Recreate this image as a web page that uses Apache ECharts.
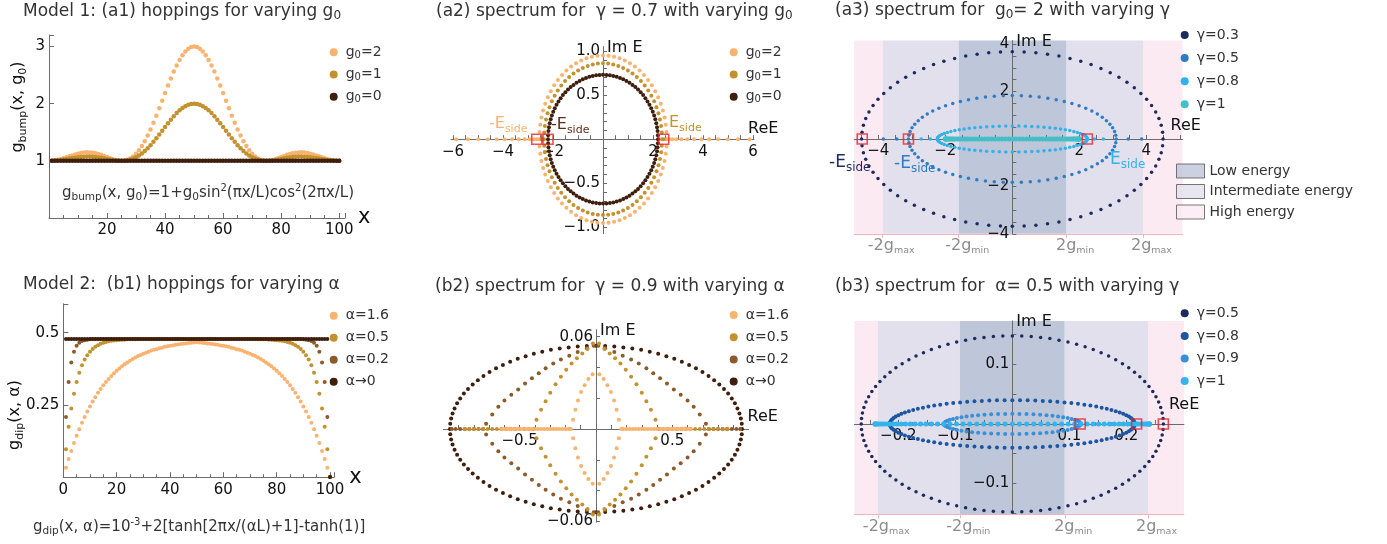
<!DOCTYPE html>
<html><head><meta charset="utf-8">
<script src="https://cdn.jsdelivr.net/npm/echarts@6/dist/echarts.min.js"></script>
<style>html,body{margin:0;padding:0;background:#fff}#c{width:1387px;height:544px}</style>
</head><body><div id="c"></div>
<script>
// ---------------- DATA ----------------
const a1X = [1,2,3,4,5,6,7,8,9,10,11,12,13,14,15,16,17,18,19,20,21,22,23,24,25,26,27,28,29,30,31,32,33,34,35,36,37,38,39,40,41,42,43,44,45,46,47,48,49,50,51,52,53,54,55,56,57,58,59,60,61,62,63,64,65,66,67,68,69,70,71,72,73,74,75,76,77,78,79,80,81,82,83,84,85,86,87,88,89,90,91,92,93,94,95,96,97,98,99,100];
const a1G2 = [1.002,1.008,1.017,1.029,1.044,1.061,1.078,1.095,1.111,1.125,1.136,1.144,1.148,1.147,1.142,1.133,1.120,1.104,1.086,1.066,1.046,1.029,1.014,1.004,1.000,1.004,1.018,1.042,1.077,1.125,1.185,1.258,1.344,1.441,1.549,1.665,1.789,1.919,2.051,2.184,2.315,2.441,2.560,2.668,2.765,2.847,2.913,2.961,2.990,3.000,
2.990,2.961,2.913,2.847,2.765,2.668,2.560,2.441,2.315,2.184,2.051,1.919,1.789,1.665,1.549,1.441,1.344,1.258,1.185,1.125,1.077,1.042,1.018,1.004,1.000,1.004,1.014,1.029,1.046,1.066,1.086,1.104,1.120,1.133,1.142,1.147,1.148,1.144,1.136,1.125,1.111,1.095,1.078,1.061,1.044,1.029,1.017,1.008,1.002,1.000];
const a1G1 = [1.001,1.004,1.009,1.015,1.022,1.030,1.039,1.047,1.055,1.063,1.068,1.072,1.074,1.074,1.071,1.067,1.060,1.052,1.043,1.033,1.023,1.014,1.007,1.002,1.000,1.002,1.009,1.021,1.039,1.063,1.093,1.129,1.172,1.220,1.274,1.333,1.395,1.459,1.526,1.592,1.657,1.720,1.780,1.834,1.882,1.923,1.956,1.980,1.995,2.000,
1.995,1.980,1.956,1.923,1.882,1.834,1.780,1.720,1.657,1.592,1.526,1.459,1.395,1.333,1.274,1.220,1.172,1.129,1.093,1.063,1.039,1.021,1.009,1.002,1.000,1.002,1.007,1.014,1.023,1.033,1.043,1.052,1.060,1.067,1.071,1.074,1.074,1.072,1.068,1.063,1.055,1.047,1.039,1.030,1.022,1.015,1.009,1.004,1.001,1.000];
const a1G0 = [1,1,1,1,1,1,1,1,1,1,1,1,1,1,1,1,1,1,1,1,1,1,1,1,1,1,1,1,1,1,1,1,1,1,1,1,1,1,1,1,1,1,1,1,1,1,1,1,1,1,1,1,1,1,1,1,1,1,1,1,1,1,1,1,1,1,1,1,1,1,1,1,1,1,1,1,1,1,1,1,1,1,1,1,1,1,1,1,1,1,1,1,1,1,1,1,1,1,1,1];

const b1A16 = [0.033,0.063,0.091,0.118,0.143,0.166,0.188,0.208,0.227,0.245,0.262,0.277,0.292,0.305,0.318,0.329,0.340,0.350,0.360,0.368,0.376,0.384,0.391,0.397,0.403,0.409,0.414,0.419,0.423,0.427,0.431,0.434,0.438,0.441,0.443,0.446,0.448,0.451,0.453,0.455,0.456,0.458,0.459,0.461,0.462,0.463,0.464,0.465,0.466,0.467,
0.466,0.465,0.464,0.463,0.462,0.461,0.459,0.458,0.456,0.455,0.453,0.451,0.448,0.446,0.443,0.441,0.438,0.434,0.431,0.427,0.423,0.419,0.414,0.409,0.403,0.397,0.391,0.384,0.376,0.368,0.360,0.350,0.340,0.329,0.318,0.305,0.292,0.277,0.262,0.245,0.227,0.208,0.188,0.166,0.143,0.118,0.091,0.063,0.033,0.001];
const b1A05 = [0.097,0.175,0.238,0.289,0.329,0.361,0.387,0.407,0.422,0.434,0.444,0.451,0.457,0.462,0.465,0.468,0.470,0.472,0.473,0.474,0.475,0.476,0.476,0.477,0.477,0.477,0.477,
0.478,0.478,0.478,0.478,0.478,0.478,0.478,0.478,0.478,0.478,0.478,0.478,0.478,0.478,0.478,0.478,0.478,0.478,0.478,0.478,0.478,0.478,0.478,0.478,0.478,0.478,0.478,0.478,0.478,0.478,0.478,0.478,0.478,0.478,0.478,0.478,0.478,0.478,0.478,0.478,0.478,0.478,0.478,0.478,0.478,
0.477,0.477,0.477,0.477,0.476,0.476,0.475,0.474,0.473,0.472,0.470,0.468,0.465,0.462,0.457,0.451,0.444,0.434,0.422,0.407,0.387,0.361,0.329,0.289,0.238,0.175,0.097,0.001];
const b1A02 = [0.208,0.329,0.397,0.434,0.455,0.465,0.471,0.474,0.476,0.477,
0.478,0.478,0.478,0.478,0.478,0.478,0.478,0.478,0.478,0.478,0.478,0.478,0.478,0.478,0.478,0.478,0.478,0.478,0.478,0.478,0.478,0.478,0.478,0.478,0.478,0.478,0.478,0.478,0.478,0.478,
0.478,0.478,0.478,0.478,0.478,0.478,0.478,0.478,0.478,0.478,0.478,0.478,0.478,0.478,0.478,0.478,0.478,0.478,0.478,0.478,0.478,0.478,0.478,0.478,0.478,0.478,0.478,0.478,0.478,0.478,
0.478,0.478,0.478,0.478,0.478,0.478,0.478,0.478,0.478,0.478,0.478,0.478,0.478,0.478,0.478,0.478,0.478,0.478,0.478,
0.477,0.476,0.474,0.471,0.465,0.455,0.434,0.397,0.329,0.208,0.001];
const b1A00 = [0.478,0.478,0.478,0.478,0.478,0.478,0.478,0.478,0.478,0.478,0.478,0.478,0.478,0.478,0.478,0.478,0.478,0.478,0.478,0.478,0.478,0.478,0.478,0.478,0.478,0.478,0.478,0.478,0.478,0.478,0.478,0.478,0.478,0.478,0.478,0.478,0.478,0.478,0.478,0.478,0.478,0.478,0.478,0.478,0.478,0.478,0.478,0.478,0.478,0.478,
0.478,0.478,0.478,0.478,0.478,0.478,0.478,0.478,0.478,0.478,0.478,0.478,0.478,0.478,0.478,0.478,0.478,0.478,0.478,0.478,0.478,0.478,0.478,0.478,0.478,0.478,0.478,0.478,0.478,0.478,0.478,0.478,0.478,0.478,0.478,0.478,0.478,0.478,0.478,0.478,0.478,0.478,0.478,0.478,0.478,0.478,0.478,0.478,0.478,0.001];

const a2G0 = [[2.2,0],[2.196,0.046],[2.183,0.092],[2.161,0.137],[2.131,0.182],[2.092,0.226],[2.046,0.269],[1.991,0.311],[1.928,0.352],[1.858,0.391],[1.78,0.429],[1.695,0.465],[1.604,0.5],[1.506,0.532],[1.402,0.563],[1.293,0.591],[1.179,0.616],[1.06,0.64],[0.937,0.661],[0.81,0.679],[0.68,0.694],[0.547,0.707],[0.412,0.717],[0.276,0.724],[0.138,0.729],[0,0.73],
[-0.138,0.729],[-0.276,0.724],[-0.412,0.717],[-0.547,0.707],[-0.68,0.694],[-0.81,0.679],[-0.937,0.661],[-1.06,0.64],[-1.179,0.616],[-1.293,0.591],[-1.402,0.563],[-1.506,0.532],[-1.604,0.5],[-1.695,0.465],[-1.78,0.429],[-1.858,0.391],[-1.928,0.352],[-1.991,0.311],[-2.046,0.269],[-2.092,0.226],[-2.131,0.182],[-2.161,0.137],[-2.183,0.092],[-2.196,0.046],[-2.2,0],
[2.196,-0.046],[2.183,-0.092],[2.161,-0.137],[2.131,-0.182],[2.092,-0.226],[2.046,-0.269],[1.991,-0.311],[1.928,-0.352],[1.858,-0.391],[1.78,-0.429],[1.695,-0.465],[1.604,-0.5],[1.506,-0.532],[1.402,-0.563],[1.293,-0.591],[1.179,-0.616],[1.06,-0.64],[0.937,-0.661],[0.81,-0.679],[0.68,-0.694],[0.547,-0.707],[0.412,-0.717],[0.276,-0.724],[0.138,-0.729],[0,-0.73],
[-0.138,-0.729],[-0.276,-0.724],[-0.412,-0.717],[-0.547,-0.707],[-0.68,-0.694],[-0.81,-0.679],[-0.937,-0.661],[-1.06,-0.64],[-1.179,-0.616],[-1.293,-0.591],[-1.402,-0.563],[-1.506,-0.532],[-1.604,-0.5],[-1.695,-0.465],[-1.78,-0.429],[-1.858,-0.391],[-1.928,-0.352],[-1.991,-0.311],[-2.046,-0.269],[-2.092,-0.226],[-2.131,-0.182],[-2.161,-0.137],[-2.183,-0.092],[-2.196,-0.046]];
const a2G1 = [[2.36,0],[2.351,0.075],[2.324,0.149],[2.28,0.223],[2.218,0.294],[2.139,0.363],[2.044,0.43],[1.933,0.493],[1.808,0.553],[1.669,0.608],[1.517,0.659],[1.354,0.704],[1.18,0.745],[0.997,0.779],[0.807,0.808],[0.611,0.831],[0.41,0.847],[0.206,0.857],[0,0.86],
[-0.206,0.857],[-0.41,0.847],[-0.611,0.831],[-0.807,0.808],[-0.997,0.779],[-1.18,0.745],[-1.354,0.704],[-1.517,0.659],[-1.669,0.608],[-1.808,0.553],[-1.933,0.493],[-2.044,0.43],[-2.139,0.363],[-2.218,0.294],[-2.28,0.223],[-2.324,0.149],[-2.351,0.075],[-2.36,0],
[2.351,-0.075],[2.324,-0.149],[2.28,-0.223],[2.218,-0.294],[2.139,-0.363],[2.044,-0.43],[1.933,-0.493],[1.808,-0.553],[1.669,-0.608],[1.517,-0.659],[1.354,-0.704],[1.18,-0.745],[0.997,-0.779],[0.807,-0.808],[0.611,-0.831],[0.41,-0.847],[0.206,-0.857],[0,-0.86],
[-0.206,-0.857],[-0.41,-0.847],[-0.611,-0.831],[-0.807,-0.808],[-0.997,-0.779],[-1.18,-0.745],[-1.354,-0.704],[-1.517,-0.659],[-1.669,-0.608],[-1.808,-0.553],[-1.933,-0.493],[-2.044,-0.43],[-2.139,-0.363],[-2.218,-0.294],[-2.28,-0.223],[-2.324,-0.149],[-2.351,-0.075]];
const a2G1Real = [-2.45,2.43];
const a2G2 = [[2.55,0],[2.54,0.083],[2.511,0.165],[2.463,0.246],[2.396,0.325],[2.311,0.401],[2.208,0.475],[2.089,0.545],[1.953,0.611],[1.803,0.672],[1.639,0.728],[1.463,0.778],[1.275,0.823],[1.078,0.861],[0.872,0.893],[0.66,0.918],[0.443,0.936],[0.222,0.946],[0,0.95],
[-0.222,0.946],[-0.443,0.936],[-0.66,0.918],[-0.872,0.893],[-1.078,0.861],[-1.275,0.823],[-1.463,0.778],[-1.639,0.728],[-1.803,0.672],[-1.953,0.611],[-2.089,0.545],[-2.208,0.475],[-2.311,0.401],[-2.396,0.325],[-2.463,0.246],[-2.511,0.165],[-2.54,0.083],[-2.55,0],
[2.54,-0.083],[2.511,-0.165],[2.463,-0.246],[2.396,-0.325],[2.311,-0.401],[2.208,-0.475],[2.089,-0.545],[1.953,-0.611],[1.803,-0.672],[1.639,-0.728],[1.463,-0.778],[1.275,-0.823],[1.078,-0.861],[0.872,-0.893],[0.66,-0.918],[0.443,-0.936],[0.222,-0.946],[0,-0.95],
[-0.222,-0.946],[-0.443,-0.936],[-0.66,-0.918],[-0.872,-0.893],[-1.078,-0.861],[-1.275,-0.823],[-1.463,-0.778],[-1.639,-0.728],[-1.803,-0.672],[-1.953,-0.611],[-2.089,-0.545],[-2.208,-0.475],[-2.311,-0.401],[-2.396,-0.325],[-2.463,-0.246],[-2.511,-0.165],[-2.54,-0.083]];
const a2G2Real = [-5.87,-5.4,-4.99,-4.61,-4.25,-3.94,-3.64,-3.37,-3.13,-2.93,-2.77,-2.65,2.65,2.77,2.93,3.13,3.37,3.64,3.94,4.25,4.61,4.99,5.4,5.87];
const a2Side = [-2.65,-2.2,2.43];

const a3G03 = [[4.5,0],[4.486,0.289],[4.445,0.576],[4.376,0.859],[4.28,1.137],[4.157,1.408],[4.01,1.671],[3.837,1.923],[3.641,2.163],[3.422,2.39],[3.182,2.602],[2.923,2.798],[2.645,2.977],[2.351,3.138],[2.043,3.279],[1.722,3.4],[1.391,3.5],[1.051,3.578],[0.704,3.635],[0.353,3.669],[0,3.68],
[-0.353,3.669],[-0.704,3.635],[-1.051,3.578],[-1.391,3.5],[-1.722,3.4],[-2.043,3.279],[-2.351,3.138],[-2.645,2.977],[-2.923,2.798],[-3.182,2.602],[-3.422,2.39],[-3.641,2.163],[-3.837,1.923],[-4.01,1.671],[-4.157,1.408],[-4.28,1.137],[-4.376,0.859],[-4.445,0.576],[-4.486,0.289],[-4.5,0],
[4.486,-0.289],[4.445,-0.576],[4.376,-0.859],[4.28,-1.137],[4.157,-1.408],[4.01,-1.671],[3.837,-1.923],[3.641,-2.163],[3.422,-2.39],[3.182,-2.602],[2.923,-2.798],[2.645,-2.977],[2.351,-3.138],[2.043,-3.279],[1.722,-3.4],[1.391,-3.5],[1.051,-3.578],[0.704,-3.635],[0.353,-3.669],[0,-3.68],
[-0.353,-3.669],[-0.704,-3.635],[-1.051,-3.578],[-1.391,-3.5],[-1.722,-3.4],[-2.043,-3.279],[-2.351,-3.138],[-2.645,-2.977],[-2.923,-2.798],[-3.182,-2.602],[-3.422,-2.39],[-3.641,-2.163],[-3.837,-1.923],[-4.01,-1.671],[-4.157,-1.408],[-4.28,-1.137],[-4.376,-0.859],[-4.445,-0.576],[-4.486,-0.289]];
const a3G05 = [[3.1,0],[3.088,0.16],[3.053,0.318],[2.994,0.474],[2.913,0.626],[2.81,0.773],[2.685,0.915],[2.539,1.05],[2.375,1.176],[2.192,1.294],[1.993,1.402],[1.778,1.499],[1.55,1.585],[1.31,1.659],[1.06,1.72],[0.802,1.768],[0.538,1.802],[0.27,1.823],[0,1.83],
[-0.27,1.823],[-0.538,1.802],[-0.802,1.768],[-1.06,1.72],[-1.31,1.659],[-1.55,1.585],[-1.778,1.499],[-1.993,1.402],[-2.192,1.294],[-2.375,1.176],[-2.539,1.05],[-2.685,0.915],[-2.81,0.773],[-2.913,0.626],[-2.994,0.474],[-3.053,0.318],[-3.088,0.16],[-3.1,0],
[3.088,-0.16],[3.053,-0.318],[2.994,-0.474],[2.913,-0.626],[2.81,-0.773],[2.685,-0.915],[2.539,-1.05],[2.375,-1.176],[2.192,-1.294],[1.993,-1.402],[1.778,-1.499],[1.55,-1.585],[1.31,-1.659],[1.06,-1.72],[0.802,-1.768],[0.538,-1.802],[0.27,-1.823],[0,-1.83],
[-0.27,-1.823],[-0.538,-1.802],[-0.802,-1.768],[-1.06,-1.72],[-1.31,-1.659],[-1.55,-1.585],[-1.778,-1.499],[-1.993,-1.402],[-2.192,-1.294],[-2.375,-1.176],[-2.539,-1.05],[-2.685,-0.915],[-2.81,-0.773],[-2.913,-0.626],[-2.994,-0.474],[-3.053,-0.318],[-3.088,-0.16]];
const a3G05Real = [-3.85,-3.45,3.46,3.86];
const a3G08 = [[2.24,0],[2.231,0.048],[2.206,0.096],[2.164,0.142],[2.105,0.188],[2.03,0.232],[1.94,0.275],[1.835,0.315],[1.716,0.354],[1.584,0.389],[1.44,0.421],[1.285,0.451],[1.12,0.476],[0.947,0.498],[0.766,0.517],[0.58,0.531],[0.389,0.542],[0.195,0.548],[0,0.55],
[-0.195,0.548],[-0.389,0.542],[-0.58,0.531],[-0.766,0.517],[-0.947,0.498],[-1.12,0.476],[-1.285,0.451],[-1.44,0.421],[-1.584,0.389],[-1.716,0.354],[-1.835,0.315],[-1.94,0.275],[-2.03,0.232],[-2.105,0.188],[-2.164,0.142],[-2.206,0.096],[-2.231,0.048],[-2.24,0],
[2.231,-0.048],[2.206,-0.096],[2.164,-0.142],[2.105,-0.188],[2.03,-0.232],[1.94,-0.275],[1.835,-0.315],[1.716,-0.354],[1.584,-0.389],[1.44,-0.421],[1.285,-0.451],[1.12,-0.476],[0.947,-0.498],[0.766,-0.517],[0.58,-0.531],[0.389,-0.542],[0.195,-0.548],[0,-0.55],
[-0.195,-0.548],[-0.389,-0.542],[-0.58,-0.531],[-0.766,-0.517],[-0.947,-0.498],[-1.12,-0.476],[-1.285,-0.451],[-1.44,-0.421],[-1.584,-0.389],[-1.716,-0.354],[-1.835,-0.315],[-1.94,-0.275],[-2.03,-0.232],[-2.105,-0.188],[-2.164,-0.142],[-2.206,-0.096],[-2.231,-0.048]];
const a3G08Real = [-2.72,-2.45,2.45,2.72];
const a3G1Real = [-2,-1.997,-1.989,-1.975,-1.956,-1.932,-1.902,-1.867,-1.827,-1.782,-1.732,-1.677,-1.618,-1.554,-1.486,-1.414,-1.338,-1.259,-1.176,-1.089,-1,-0.908,-0.813,-0.717,-0.618,-0.518,-0.416,-0.313,-0.209,-0.105,0,
0.105,0.209,0.313,0.416,0.518,0.618,0.717,0.813,0.908,1,1.089,1.176,1.259,1.338,1.414,1.486,1.554,1.618,1.677,1.732,1.782,1.827,1.867,1.902,1.932,1.956,1.975,1.989,1.997,2];
const a3Side = [-4.48,-3.1,2.24];
const a3Bands = [-3.87,-1.6,1.62,3.9];

const b2A00 = [[0.957,0],[0.9551,0.0034],[0.9494,0.0068],[0.9401,0.0101],[0.9269,0.0134],[0.9102,0.0167],[0.8898,0.0199],[0.8659,0.023],[0.8386,0.026],[0.808,0.0289],[0.7742,0.0317],[0.7374,0.0344],[0.6976,0.037],[0.6551,0.0394],[0.61,0.0416],[0.5625,0.0437],[0.5128,0.0456],[0.461,0.0473],[0.4075,0.0489],[0.3523,0.0502],[0.2957,0.0514],[0.238,0.0523],[0.1793,0.053],[0.1199,0.0536],[0.0601,0.0539],[0,0.054],
[-0.0601,0.0539],[-0.1199,0.0536],[-0.1793,0.053],[-0.238,0.0523],[-0.2957,0.0514],[-0.3523,0.0502],[-0.4075,0.0489],[-0.461,0.0473],[-0.5128,0.0456],[-0.5625,0.0437],[-0.61,0.0416],[-0.6551,0.0394],[-0.6976,0.037],[-0.7374,0.0344],[-0.7742,0.0317],[-0.808,0.0289],[-0.8386,0.026],[-0.8659,0.023],[-0.8898,0.0199],[-0.9102,0.0167],[-0.9269,0.0134],[-0.9401,0.0101],[-0.9494,0.0068],[-0.9551,0.0034],[-0.957,0],
[0.9551,-0.0034],[0.9494,-0.0068],[0.9401,-0.0101],[0.9269,-0.0134],[0.9102,-0.0167],[0.8898,-0.0199],[0.8659,-0.023],[0.8386,-0.026],[0.808,-0.0289],[0.7742,-0.0317],[0.7374,-0.0344],[0.6976,-0.037],[0.6551,-0.0394],[0.61,-0.0416],[0.5625,-0.0437],[0.5128,-0.0456],[0.461,-0.0473],[0.4075,-0.0489],[0.3523,-0.0502],[0.2957,-0.0514],[0.238,-0.0523],[0.1793,-0.053],[0.1199,-0.0536],[0.0601,-0.0539],[0,-0.054],
[-0.0601,-0.0539],[-0.1199,-0.0536],[-0.1793,-0.053],[-0.238,-0.0523],[-0.2957,-0.0514],[-0.3523,-0.0502],[-0.4075,-0.0489],[-0.461,-0.0473],[-0.5128,-0.0456],[-0.5625,-0.0437],[-0.61,-0.0416],[-0.6551,-0.0394],[-0.6976,-0.037],[-0.7374,-0.0344],[-0.7742,-0.0317],[-0.808,-0.0289],[-0.8386,-0.026],[-0.8659,-0.023],[-0.8898,-0.0199],[-0.9102,-0.0167],[-0.9269,-0.0134],[-0.9401,-0.0101],[-0.9494,-0.0068],[-0.9551,-0.0034]];
const b2A02 = [[-0.72,0.0035],[-0.68,0.0095],[-0.64,0.0145],[-0.6,0.0185],[-0.555,0.0222],[-0.51,0.0257],[-0.465,0.0295],[-0.42,0.033],[-0.375,0.0363],[-0.33,0.0395],[-0.28,0.0425],[-0.23,0.0452],[-0.175,0.0476],[-0.12,0.05],[-0.06,0.0525],[-0.015,0.054],
[0.015,0.054],[0.06,0.0525],[0.12,0.05],[0.175,0.0476],[0.23,0.0452],[0.28,0.0425],[0.33,0.0395],[0.375,0.0363],[0.42,0.033],[0.465,0.0295],[0.51,0.0257],[0.555,0.0222],[0.6,0.0185],[0.64,0.0145],[0.68,0.0095],[0.72,0.0035],
[-0.72,-0.0035],[-0.68,-0.0095],[-0.64,-0.0145],[-0.6,-0.0185],[-0.555,-0.0222],[-0.51,-0.0257],[-0.465,-0.0295],[-0.42,-0.033],[-0.375,-0.0363],[-0.33,-0.0395],[-0.28,-0.0425],[-0.23,-0.0452],[-0.175,-0.0476],[-0.12,-0.05],[-0.06,-0.0525],[-0.015,-0.054],
[0.015,-0.054],[0.06,-0.0525],[0.12,-0.05],[0.175,-0.0476],[0.23,-0.0452],[0.28,-0.0425],[0.33,-0.0395],[0.375,-0.0363],[0.42,-0.033],[0.465,-0.0295],[0.51,-0.0257],[0.555,-0.0222],[0.6,-0.0185],[0.64,-0.0145],[0.68,-0.0095],[0.72,-0.0035]];
const b2A02Real = [-0.945,-0.92,-0.89,-0.86,-0.83,-0.8,-0.77,-0.74,0.74,0.77,0.8,0.83,0.86,0.89,0.92,0.945];
const b2A05 = [[-0.39,0.006],[-0.36,0.0125],[-0.33,0.018],[-0.3,0.0235],[-0.265,0.029],[-0.23,0.034],[-0.195,0.0385],[-0.16,0.0425],[-0.125,0.046],[-0.09,0.049],[-0.055,0.052],[-0.02,0.0555],
[0.02,0.0555],[0.055,0.052],[0.09,0.049],[0.125,0.046],[0.16,0.0425],[0.195,0.0385],[0.23,0.034],[0.265,0.029],[0.3,0.0235],[0.33,0.018],[0.36,0.0125],[0.39,0.006],
[-0.39,-0.006],[-0.36,-0.0125],[-0.33,-0.018],[-0.3,-0.0235],[-0.265,-0.029],[-0.23,-0.034],[-0.195,-0.0385],[-0.16,-0.0425],[-0.125,-0.046],[-0.09,-0.049],[-0.055,-0.052],[-0.02,-0.0555],
[0.02,-0.0555],[0.055,-0.052],[0.09,-0.049],[0.125,-0.046],[0.16,-0.0425],[0.195,-0.0385],[0.23,-0.034],[0.265,-0.029],[0.3,-0.0235],[0.33,-0.018],[0.36,-0.0125],[0.39,-0.006]];
const b2A05Real = [-0.86,-0.83,-0.8,-0.77,-0.74,-0.71,-0.68,-0.65,-0.62,-0.59,-0.56,-0.53,-0.5,-0.47,-0.44,-0.41,0.41,0.44,0.47,0.5,0.53,0.56,0.59,0.62,0.65,0.68,0.71,0.74,0.77,0.8,0.83,0.86];
const b2A16 = [[-0.15,0.006],[-0.135,0.0125],[-0.118,0.0185],[-0.098,0.024],[-0.075,0.0285],[-0.05,0.0325],[-0.022,0.0355],[0.022,0.0355],[0.05,0.0325],[0.075,0.0285],[0.098,0.024],[0.118,0.0185],[0.135,0.0125],[0.15,0.006],
[-0.15,-0.006],[-0.135,-0.0125],[-0.118,-0.0185],[-0.098,-0.024],[-0.075,-0.0285],[-0.05,-0.0325],[-0.022,-0.0355],[0.022,-0.0355],[0.05,-0.0325],[0.075,-0.0285],[0.098,-0.024],[0.118,-0.0185],[0.135,-0.0125],[0.15,-0.006]];
const b2A16Real = [-0.62,-0.6,-0.58,-0.56,-0.54,-0.52,-0.5,-0.48,-0.46,-0.44,-0.42,-0.4,-0.38,-0.36,-0.34,-0.32,-0.3,-0.28,-0.26,-0.24,-0.22,-0.2,-0.18,-0.165,0.165,0.18,0.2,0.22,0.24,0.26,0.28,0.3,0.32,0.34,0.36,0.38,0.4,0.42,0.44,0.46,0.48,0.5,0.52,0.54,0.56,0.58,0.6,0.62];

const b3G05 = [[0.265,0],[0.2645,0.0093],[0.2629,0.0185],[0.2603,0.0277],[0.2567,0.0368],[0.252,0.0457],[0.2464,0.0545],[0.2398,0.063],[0.2322,0.0713],[0.2237,0.0793],[0.2144,0.087],[0.2042,0.0943],[0.1932,0.1013],[0.1814,0.1079],[0.1689,0.114],[0.1558,0.1197],[0.142,0.125],[0.1277,0.1297],[0.1128,0.1339],[0.0976,0.1376],[0.0819,0.1408],[0.0659,0.1434],[0.0497,0.1454],[0.0332,0.1468],[0.0166,0.1477],[0,0.148],
[-0.0166,0.1477],[-0.0332,0.1468],[-0.0497,0.1454],[-0.0659,0.1434],[-0.0819,0.1408],[-0.0976,0.1376],[-0.1128,0.1339],[-0.1277,0.1297],[-0.142,0.125],[-0.1558,0.1197],[-0.1689,0.114],[-0.1814,0.1079],[-0.1932,0.1013],[-0.2042,0.0943],[-0.2144,0.087],[-0.2237,0.0793],[-0.2322,0.0713],[-0.2398,0.063],[-0.2464,0.0545],[-0.252,0.0457],[-0.2567,0.0368],[-0.2603,0.0277],[-0.2629,0.0185],[-0.2645,0.0093],[-0.265,0],
[0.2645,-0.0093],[0.2629,-0.0185],[0.2603,-0.0277],[0.2567,-0.0368],[0.252,-0.0457],[0.2464,-0.0545],[0.2398,-0.063],[0.2322,-0.0713],[0.2237,-0.0793],[0.2144,-0.087],[0.2042,-0.0943],[0.1932,-0.1013],[0.1814,-0.1079],[0.1689,-0.114],[0.1558,-0.1197],[0.142,-0.125],[0.1277,-0.1297],[0.1128,-0.1339],[0.0976,-0.1376],[0.0819,-0.1408],[0.0659,-0.1434],[0.0497,-0.1454],[0.0332,-0.1468],[0.0166,-0.1477],[0,-0.148],
[-0.0166,-0.1477],[-0.0332,-0.1468],[-0.0497,-0.1454],[-0.0659,-0.1434],[-0.0819,-0.1408],[-0.0976,-0.1376],[-0.1128,-0.1339],[-0.1277,-0.1297],[-0.142,-0.125],[-0.1558,-0.1197],[-0.1689,-0.114],[-0.1814,-0.1079],[-0.1932,-0.1013],[-0.2042,-0.0943],[-0.2144,-0.087],[-0.2237,-0.0793],[-0.2322,-0.0713],[-0.2398,-0.063],[-0.2464,-0.0545],[-0.252,-0.0457],[-0.2567,-0.0368],[-0.2603,-0.0277],[-0.2629,-0.0185],[-0.2645,-0.0093]];
const b3G08 = [[0.215,0],[0.2146,0.0025],[0.2133,0.005],[0.2112,0.0075],[0.2082,0.0099],[0.2045,0.0124],[0.1999,0.0147],[0.1945,0.017],[0.1884,0.0193],[0.1815,0.0214],[0.1739,0.0235],[0.1657,0.0255],[0.1567,0.0274],[0.1472,0.0292],[0.137,0.0308],[0.1264,0.0324],[0.1152,0.0338],[0.1036,0.0351],[0.0915,0.0362],[0.0791,0.0372],[0.0664,0.038],[0.0535,0.0387],[0.0403,0.0393],[0.0269,0.0397],[0.0135,0.0399],[0,0.04],
[-0.0135,0.0399],[-0.0269,0.0397],[-0.0403,0.0393],[-0.0535,0.0387],[-0.0664,0.038],[-0.0791,0.0372],[-0.0915,0.0362],[-0.1036,0.0351],[-0.1152,0.0338],[-0.1264,0.0324],[-0.137,0.0308],[-0.1472,0.0292],[-0.1567,0.0274],[-0.1657,0.0255],[-0.1739,0.0235],[-0.1815,0.0214],[-0.1884,0.0193],[-0.1945,0.017],[-0.1999,0.0147],[-0.2045,0.0124],[-0.2082,0.0099],[-0.2112,0.0075],[-0.2133,0.005],[-0.2146,0.0025],[-0.215,0],
[0.2146,-0.0025],[0.2133,-0.005],[0.2112,-0.0075],[0.2082,-0.0099],[0.2045,-0.0124],[0.1999,-0.0147],[0.1945,-0.017],[0.1884,-0.0193],[0.1815,-0.0214],[0.1739,-0.0235],[0.1657,-0.0255],[0.1567,-0.0274],[0.1472,-0.0292],[0.137,-0.0308],[0.1264,-0.0324],[0.1152,-0.0338],[0.1036,-0.0351],[0.0915,-0.0362],[0.0791,-0.0372],[0.0664,-0.038],[0.0535,-0.0387],[0.0403,-0.0393],[0.0269,-0.0397],[0.0135,-0.0399],[0,-0.04],
[-0.0135,-0.0399],[-0.0269,-0.0397],[-0.0403,-0.0393],[-0.0535,-0.0387],[-0.0664,-0.038],[-0.0791,-0.0372],[-0.0915,-0.0362],[-0.1036,-0.0351],[-0.1152,-0.0338],[-0.1264,-0.0324],[-0.137,-0.0308],[-0.1472,-0.0292],[-0.1567,-0.0274],[-0.1657,-0.0255],[-0.1739,-0.0235],[-0.1815,-0.0214],[-0.1884,-0.0193],[-0.1945,-0.017],[-0.1999,-0.0147],[-0.2045,-0.0124],[-0.2082,-0.0099],[-0.2112,-0.0075],[-0.2133,-0.005],[-0.2146,-0.0025]];
const b3G08Real = [-0.24,-0.234,-0.228,-0.222,0.222,0.228,0.234,0.24];
const b3G09 = [[0.12,0],[0.1193,0.0018],[0.1174,0.0035],[0.1141,0.0053],[0.1096,0.0069],[0.1039,0.0085],[0.0971,0.01],[0.0892,0.0114],[0.0803,0.0126],[0.0705,0.0138],[0.06,0.0147],[0.0488,0.0155],[0.0371,0.0162],[0.0249,0.0166],[0.0125,0.0169],[0,0.017],
[-0.0125,0.0169],[-0.0249,0.0166],[-0.0371,0.0162],[-0.0488,0.0155],[-0.06,0.0147],[-0.0705,0.0138],[-0.0803,0.0126],[-0.0892,0.0114],[-0.0971,0.01],[-0.1039,0.0085],[-0.1096,0.0069],[-0.1141,0.0053],[-0.1174,0.0035],[-0.1193,0.0018],[-0.12,0],
[0.1193,-0.0018],[0.1174,-0.0035],[0.1141,-0.0053],[0.1096,-0.0069],[0.1039,-0.0085],[0.0971,-0.01],[0.0892,-0.0114],[0.0803,-0.0126],[0.0705,-0.0138],[0.06,-0.0147],[0.0488,-0.0155],[0.0371,-0.0162],[0.0249,-0.0166],[0.0125,-0.0169],[0,-0.017],
[-0.0125,-0.0169],[-0.0249,-0.0166],[-0.0371,-0.0162],[-0.0488,-0.0155],[-0.06,-0.0147],[-0.0705,-0.0138],[-0.0803,-0.0126],[-0.0892,-0.0114],[-0.0971,-0.01],[-0.1039,-0.0085],[-0.1096,-0.0069],[-0.1141,-0.0053],[-0.1174,-0.0035],[-0.1193,-0.0018]];
const b3G09Real = [-0.235,-0.22,-0.205,-0.19,-0.175,-0.16,-0.145,-0.13,0.13,0.145,0.16,0.175,0.19,0.205,0.22,0.235];
const b3G1Real = [-0.241,-0.2407,-0.2397,-0.238,-0.2357,-0.2328,-0.2292,-0.225,-0.2202,-0.2147,-0.2087,-0.2021,-0.195,-0.1873,-0.1791,-0.1704,-0.1613,-0.1517,-0.1417,-0.1313,-0.1205,-0.1094,-0.098,-0.0864,-0.0745,-0.0624,-0.0501,-0.0377,-0.0252,-0.0126,0,
0.0126,0.0252,0.0377,0.0501,0.0624,0.0745,0.0864,0.098,0.1094,0.1205,0.1313,0.1417,0.1517,0.1613,0.1704,0.1791,0.1873,0.195,0.2021,0.2087,0.2147,0.2202,0.225,0.2292,0.2328,0.2357,0.238,0.2397,0.2407,0.241];
const b3Side = [0.119,0.218,0.265];
const b3Bands = [-0.236,-0.092,0.092,0.238];

// tick values and labels
const a1XLabels = [20,40,60,80,100];
const a1YLabels = [1,2,3];
const b1XLabels = [0,20,40,60,80,100];
const b1YLabels = [0.25,0.5];
const a2XTicks = [-6,-5.5,-5,-4.5,-4,-3.5,-3,-2.5,-2,-1.5,-1,-0.5,0.5,1,1.5,2,2.5,3,3.5,4,4.5,5,5.5,6];
const a2XLabels = [-6,-4,-2,2,4,6];
const a2YTicks = [-1,-0.9,-0.8,-0.7,-0.6,-0.5,-0.4,-0.3,-0.2,-0.1,0.1,0.2,0.3,0.4,0.5,0.6,0.7,0.8,0.9,1];
const a2YLabels = [-1,-0.5,0.5,1];
const a3XTicks = [-4.5,-4,-3.5,-3,-2.5,-2,-1.5,-1,-0.5,0.5,1,1.5,2,2.5,3,3.5,4,4.5,5];
const a3XLabels = [-4,-2,2,4];
const a3YTicks = [-4,-3.5,-3,-2.5,-2,-1.5,-1,-0.5,0.5,1,1.5,2,2.5,3,3.5,4];
const a3YLabels = [-4,-2,2,4];
const b2XTicks = [-0.9,-0.8,-0.7,-0.6,-0.5,-0.4,-0.3,-0.2,-0.1,0.1,0.2,0.3,0.4,0.5,0.6,0.7,0.8,0.9];
const b2XLabels = [-0.5,0.5];
const b2YTicks = [-0.06,-0.04,-0.02,0.02,0.04,0.06];
const b2YLabels = [-0.06,0.06];
const b3XTicks = [-0.25,-0.2,-0.15,-0.1,-0.05,0.05,0.1,0.15,0.2,0.25];
const b3XLabels = [-0.2,-0.1,0.1,0.2];
const b3YTicks = [-0.15,-0.1,-0.05,0.05,0.1,0.15];
const b3YLabels = [-0.1,0.1];
const bandMain = ['-2g','-2g','2g','2g'];
const bandSub = ['max','min','min','max'];

// ---------------- STYLE / BUILD ----------------
const FT = 'DejaVu Sans', FA = 'DejaVu Sans';
const AX = '#6b6b6b', TXT = '#333', LBL = '#111';
const COL = {orange:'#F9B36E', olive:'#C4912F', brown:'#8C5B29', dark:'#3F1E0D',
  navy:'#1D2A5D', blue5:'#2F7CC3', blue8:'#33B2EA', teal:'#45BFC6',
  dblue:'#1C56A3', mblue:'#3A8FD7', lblue:'#33B4EC',
  low:'#BEC6DA', mid:'#E2E0EC', high:'#FBEAF1', sq:'#E3262F', gray:'#8c8c8c', pink:'#F2B4BB'};

const GRIDS = [
  {left:49, top:35, width:296, height:183},
  {left:451, top:46.6, width:303, height:187},
  {left:854.2, top:40.6, width:328.3, height:193.2},
  {left:63.3, top:303.8, width:271, height:173.4},
  {left:443.4, top:329.7, width:305.2, height:192.5},
  {left:854.4, top:321, width:329.5, height:193.4}
];
const RX = [[0,102],[-6.08,6.04],[-4.72,5.08],[0,101.6],[-1,1],[-0.277,0.301]];
const RY = [[0,3.2],[-1.07,1.05],[-4,4.15],[0,0.6],[-0.0605,0.0645],[-0.152,0.173]];

const pairs = (xs, ys) => xs.map((x, i) => [x, ys[i]]);
const onAxis = arr => arr.map(v => [v, 0]);
const fmtN = d => v => (v < 0 ? '\u2212' : '') + Math.abs(v).toFixed(d);

function sc(name, gi, data, color, size, z) {
  return {type:'scatter', name, xAxisIndex:gi, yAxisIndex:gi, data, symbol:'circle', symbolSize:size,
    itemStyle:{color, opacity:1}, z: z || 5, silent:true, animation:false};
}
function squares(gi, xs) {
  return {type:'scatter', name:'side'+gi, xAxisIndex:gi, yAxisIndex:gi, data:onAxis(xs), symbol:'rect', symbolSize:10,
    itemStyle:{color:'rgba(0,0,0,0)', borderColor:COL.sq, borderWidth:1.6}, z:8, silent:true};
}
function specX(gi, ticks, labels, d, nameGap, padB) {
  const [y0, y1] = RY[gi];
  const off = -(0 - y0) / (y1 - y0) * GRIDS[gi].height;
  return {type:'value', gridIndex:gi, min:RX[gi][0], max:RX[gi][1], position:'bottom', offset:off, z:4, splitLine:{show:false},
    axisLine:{onZero:false, lineStyle:{color:AX, width:1}},
    axisTick:{show:true, inside:true, length:4, customValues:ticks, lineStyle:{color:AX}},
    axisLabel:{customValues:labels, formatter:fmtN(d), fontFamily:FA, fontSize:15, color:LBL, margin:5},
    name:'ReE', nameLocation:'end', nameGap,
    nameTextStyle:{fontFamily:FA, fontSize:16, color:LBL, align:'left', verticalAlign:'bottom', padding:[0,0,padB,0]}};
}
function specY(gi, ticks, labels, d) {
  const [x0, x1] = RX[gi];
  const off = -(0 - x0) / (x1 - x0) * GRIDS[gi].width;
  return {type:'value', gridIndex:gi, min:RY[gi][0], max:RY[gi][1], position:'left', offset:off, z:4, splitLine:{show:false},
    axisLine:{onZero:false, lineStyle:{color:AX, width:1}},
    axisTick:{show:true, inside:true, length:4, customValues:ticks, lineStyle:{color:AX}},
    axisLabel:{customValues:labels, formatter:fmtN(d), fontFamily:FA, fontSize:15, color:LBL, margin:3},
    name:'Im E', nameLocation:'end', nameGap:-1,
    nameTextStyle:{fontFamily:FA, fontSize:16, color:LBL, align:'left', verticalAlign:'middle', padding:[0,0,0,4]}};
}
function bandAxis(gi, edges) {
  return {type:'value', gridIndex:gi, min:RX[gi][0], max:RX[gi][1], position:'bottom', z:4, splitLine:{show:false},
    axisLine:{onZero:false, lineStyle:{color:COL.pink, width:1}},
    axisTick:{show:true, inside:false, length:4, customValues:edges, lineStyle:{color:COL.pink}},
    axisLabel:{customValues:edges, margin:2,
      formatter: v => { const i = edges.indexOf(v); return '{pad| }{m|' + bandMain[i] + '}{s|' + bandSub[i] + '}'; },
      rich:{pad:{width:17}, m:{fontFamily:FT, fontSize:16, color:COL.gray, lineHeight:20},
            s:{fontFamily:FT, fontSize:9.5, color:COL.gray, lineHeight:6, verticalAlign:'bottom'}}}};
}
function bandSeries(gi, edges) {
  const c = [COL.high, COL.mid, COL.low, COL.mid, COL.high];
  const b = [RX[gi][0]].concat(edges, [RX[gi][1]]);
  const data = [];
  for (let i = 0; i < 5; i++) data.push([{xAxis:b[i], itemStyle:{color:c[i]}}, {xAxis:b[i+1]}]);
  return {type:'scatter', name:'bands'+gi, xAxisIndex:gi, yAxisIndex:gi, data:[], z:1,
    markArea:{silent:true, z:1, data}};
}
function plainAxis(dim, gi, interval, labels, minor, extra) {
  const r = dim === 'x' ? RX[gi] : RY[gi];
  return Object.assign({type:'value', gridIndex:gi, min:r[0], max:r[1], interval, z:4, splitLine:{show:false},
    axisLine:{onZero:false, lineStyle:{color:AX}}, axisTick:{inside:true, length:5, lineStyle:{color:AX}},
    minorTick:{show:minor, splitNumber:4, length:3, lineStyle:{color:AX}},
    axisLabel:{customValues:labels, fontFamily:FA, fontSize:15, color:LBL, margin:dim === 'x' ? 5 : 4}}, extra || {});
}
const legTS = {fontFamily:FT, fontSize:14, color:TXT, lineHeight:16,
  rich:{s:{fontFamily:FT, fontSize:10, color:TXT, lineHeight:6, verticalAlign:'bottom'}}};
function legend(names, left, top, gap, fmt) {
  return {data:names, left, top, padding:0, orient:'vertical', icon:'circle', itemWidth:14, itemHeight:8, itemGap:gap,
    selectedMode:false, textStyle:legTS, formatter: fmt || (n => n.replace('\u200b',''))};
}
function gtext(x, y, text, fill, rich, extra) {
  return Object.assign({type:'text', x, y, silent:true, z:20,
    style:Object.assign({text, fill, fontFamily:FT, fontSize:15, lineHeight:20, verticalAlign:'middle', align:'left', rich}, extra || {})});
}
function titleText(x, y, text) {
  return gtext(x, y, text, TXT, {s:{fontFamily:FT, fontSize:12, lineHeight:10, verticalAlign:'bottom', fill:TXT}},
    {fontSize:17, lineHeight:20});
}
function sideLabel(x, y, text, fill, big, small) {
  return gtext(x, y, '{e|' + text + '}{s|side}', fill,
    {e:{fontFamily:FT, fontSize:big, lineHeight:22, fill}, s:{fontFamily:FT, fontSize:small, lineHeight:5, verticalAlign:'bottom', fill}},
    {lineHeight:22});
}
const gsub = (fill, fam) => ({s:{fontFamily:fam, fontSize:10.5, lineHeight:8, verticalAlign:'bottom', fill},
  p:{fontFamily:fam, fontSize:10, lineHeight:8, verticalAlign:'top', fill}});

const option = {
  animation:false,
  backgroundColor:'#fff',
  grid:GRIDS,
  xAxis:[
    plainAxis('x', 0, 20, a1XLabels, true, {position:'bottom', name:'x', nameLocation:'end', nameGap:13,
      nameTextStyle:{fontFamily:FA, fontSize:21, color:LBL, verticalAlign:'middle', padding:[0,0,6,0]}}),
    specX(1, a2XTicks, a2XLabels, 0, -6, 2),
    specX(2, a3XTicks, a3XLabels, 0, -12, 5),
    plainAxis('x', 3, 20, b1XLabels, true, {position:'bottom', name:'x', nameLocation:'end', nameGap:15,
      nameTextStyle:{fontFamily:FA, fontSize:21, color:LBL, verticalAlign:'middle', padding:[0,0,2,0]}}),
    specX(4, b2XTicks, b2XLabels, 1, -1, 4),
    specX(5, b3XTicks, b3XLabels, 1, -15, 11),
    bandAxis(2, a3Bands),
    bandAxis(5, b3Bands)
  ],
  yAxis:[
    plainAxis('y', 0, 1, a1YLabels, false),
    specY(1, a2YTicks, a2YLabels, 1),
    specY(2, a3YTicks, a3YLabels, 0),
    plainAxis('y', 3, 0.25, b1YLabels, false),
    specY(4, b2YTicks, b2YLabels, 2),
    specY(5, b3YTicks, b3YLabels, 1)
  ],
  legend:[
    legend(['g0=2','g0=1','g0=0'], 329.7, 44.3, 6.2, n => n.replace('g0', 'g{s|0}')),
    legend(['g0=2','g0=1','g0=0'], 729.7, 44.3, 6.2, n => n.replace('g0', 'g{s|0}')),
    legend(['\u03b3=0.3','\u03b3=0.5','\u03b3=0.8','\u03b3=1'], 1180.7, 27, 7.1),
    {data:['Low energy','Intermediate energy','High energy'], left:1176, top:163, padding:0, orient:'vertical', icon:'rect',
     itemWidth:28, itemHeight:14, itemGap:4.5, selectedMode:false,
     itemStyle:{borderColor:'#555', borderWidth:1},
     textStyle:{fontFamily:FT, fontSize:14, color:TXT, lineHeight:16}},
    legend(['\u03b1=1.6','\u03b1=0.5','\u03b1=0.2','\u03b1\u21920'], 329.7, 307.7, 6),
    legend(['\u03b1=1.6','\u03b1=0.5','\u03b1=0.2','\u03b1\u21920'], 729.7, 307, 6.2),
    legend(['\u03b3=0.5\u200b','\u03b3=0.8\u200b','\u03b3=0.9\u200b','\u03b3=1\u200b'], 1180.7, 305.3, 6.6)
  ],
  series:[
    sc('g0=2', 0, pairs(a1X, a1G2), COL.orange, 4.5),
    sc('g0=1', 0, pairs(a1X, a1G1), COL.olive, 4.5),
    sc('g0=0', 0, pairs(a1X, a1G0), COL.dark, 4.5),
    sc('g0=2', 1, a2G2.concat(onAxis(a2G2Real)), COL.orange, 4),
    sc('g0=1', 1, a2G1.concat(onAxis(a2G1Real)), COL.olive, 4),
    sc('g0=0', 1, a2G0, COL.dark, 4),
    squares(1, a2Side),
    bandSeries(2, a3Bands),
    sc('\u03b3=0.3', 2, a3G03, COL.navy, 3.5),
    sc('\u03b3=0.5', 2, a3G05.concat(onAxis(a3G05Real)), COL.blue5, 3.5),
    sc('\u03b3=0.8', 2, a3G08.concat(onAxis(a3G08Real)), COL.blue8, 3.5),
    sc('\u03b3=1', 2, onAxis(a3G1Real), COL.teal, 5, 6),
    squares(2, a3Side),
    {type:'scatter', name:'Low energy', xAxisIndex:2, yAxisIndex:2, data:[], itemStyle:{color:COL.low, borderColor:'#555', borderWidth:1}},
    {type:'scatter', name:'Intermediate energy', xAxisIndex:2, yAxisIndex:2, data:[], itemStyle:{color:COL.mid, borderColor:'#555', borderWidth:1}},
    {type:'scatter', name:'High energy', xAxisIndex:2, yAxisIndex:2, data:[], itemStyle:{color:COL.high, borderColor:'#555', borderWidth:1}},
    sc('\u03b1=1.6', 3, pairs(a1X, b1A16), COL.orange, 4),
    sc('\u03b1=0.5', 3, pairs(a1X, b1A05), COL.olive, 4),
    sc('\u03b1=0.2', 3, pairs(a1X, b1A02), COL.brown, 4),
    sc('\u03b1\u21920', 3, pairs(a1X, b1A00), COL.dark, 4),
    sc('\u03b1\u21920', 4, b2A00, COL.dark, 4),
    sc('\u03b1=0.2', 4, b2A02.concat(onAxis(b2A02Real)), COL.brown, 4),
    sc('\u03b1=0.5', 4, b2A05.concat(onAxis(b2A05Real)), COL.olive, 4),
    sc('\u03b1=1.6', 4, b2A16.concat(onAxis(b2A16Real)), COL.orange, 4),
    bandSeries(5, b3Bands),
    sc('\u03b3=0.5\u200b', 5, b3G05, COL.navy, 3.5),
    sc('\u03b3=0.8\u200b', 5, b3G08.concat(onAxis(b3G08Real)), COL.dblue, 4),
    sc('\u03b3=0.9\u200b', 5, b3G09.concat(onAxis(b3G09Real)), COL.mblue, 4),
    sc('\u03b3=1\u200b', 5, onAxis(b3G1Real), COL.lblue, 5, 6),
    squares(5, b3Side)
  ],
  graphic:[
    titleText(23, 12, 'Model 1: (a1) hoppings for varying g{s|0}'),
    titleText(436, 12, '(a2) spectrum for  \u03b3 = 0.7 with varying g{s|0}'),
    titleText(835, 11, '(a3) spectrum for  g{s|0}= 2 with varying \u03b3'),
    titleText(23, 285, 'Model 2:  (b1) hoppings for varying \u03b1'),
    titleText(435, 287, '(b2) spectrum for  \u03b3 = 0.9 with varying \u03b1'),
    titleText(835, 287, '(b3) spectrum for  \u03b1= 0.5 with varying \u03b3'),
    gtext(62, 193, 'g{s|bump}(x, g{s|0})=1+g{s|0}sin{p|2}(\u03c0x/L)cos{p|2}(2\u03c0x/L)', TXT, gsub(TXT, FT)),
    gtext(33, 527, 'g{s|dip}(x, \u03b1)=10{p|-3}+2[tanh[2\u03c0x/(\u03b1L)+1]-tanh(1)]', TXT, gsub(TXT, FT)),
    Object.assign(gtext(18, 107, 'g{s|bump}(x, g{s|0})', LBL,
      {s:{fontFamily:FA, fontSize:11, lineHeight:7, verticalAlign:'bottom', fill:LBL}},
      {fontFamily:FA, fontSize:16, lineHeight:22, align:'center'}), {rotation:Math.PI/2}),
    Object.assign(gtext(15, 415, 'g{s|dip}(x, \u03b1)', LBL,
      {s:{fontFamily:FA, fontSize:11, lineHeight:7, verticalAlign:'bottom', fill:LBL}},
      {fontFamily:FA, fontSize:16, lineHeight:22, align:'center'}), {rotation:Math.PI/2}),
    sideLabel(489, 124, '-E', COL.orange, 16, 11),
    sideLabel(551, 125, '-E', '#5A2E15', 16, 11),
    sideLabel(669, 123, 'E', COL.olive, 16, 11),
    sideLabel(829, 163, '-E', COL.navy, 17, 12),
    sideLabel(894, 164, '-E', COL.blue5, 17, 12),
    sideLabel(1110, 160, 'E', COL.blue8, 17, 12)
  ]
};
const chart = echarts.init(document.getElementById('c'), null, {renderer:'canvas'});
chart.setOption(option);
</script></body></html>
